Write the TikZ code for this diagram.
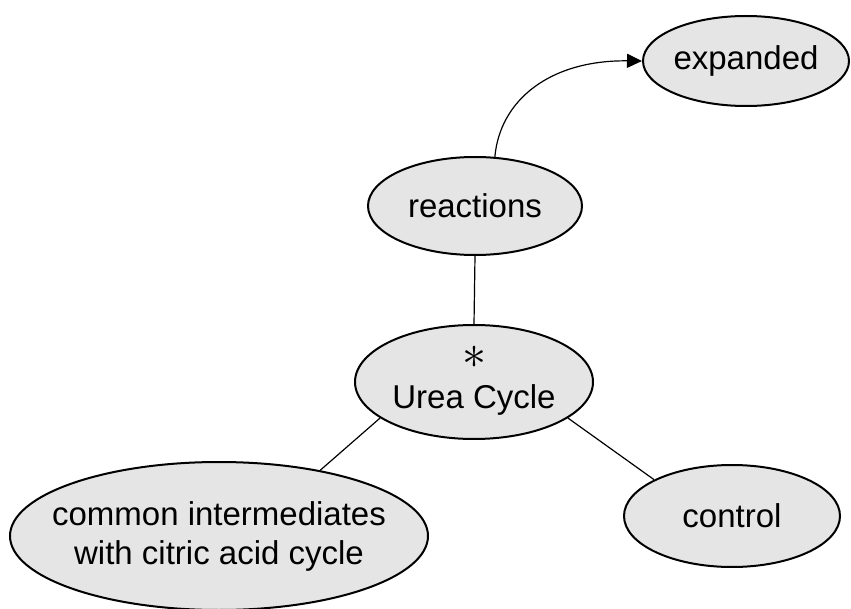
\documentclass[tikz,border=0pt]{standalone}
\usepackage{fontspec}
\setmainfont{Liberation Sans}
\usetikzlibrary{shapes.geometric,arrows.meta}
\definecolor{bubfill}{RGB}{229,229,229}
\begin{document}
\begin{tikzpicture}[x=1pt,y=-1pt,
  bub/.style={ellipse,draw=black,line width=2pt,fill=bubfill,inner sep=0pt,
    font=\fontsize{33}{39}\selectfont,align=center},
  link/.style={draw=black,line width=1.2pt},
  txt/.style={font=\fontsize{33}{39}\selectfont,inner sep=0pt}]
\useasboundingbox (0,0) rectangle (851,609);
\node[bub,minimum width=206pt,minimum height=90pt] (expanded) at (746,61) {expanded};
\node[bub,minimum width=214pt,minimum height=98pt] (reactions) at (475,206) {reactions};
\node[bub,minimum width=238pt,minimum height=114pt] (urea) at (474,382) {};
\node[txt,anchor=base] (ureatext) at (474,408) {Urea Cycle};
\node[inner sep=0pt] (star) at (474,357) {\scalebox{4.8}{$\ast$}};
\node[bub,minimum width=418pt,minimum height=148pt,inner xsep=-30pt,inner ysep=-20pt] (common) at (219,536) {common intermediates\\with citric acid cycle};
\node[bub,minimum width=216pt,minimum height=102pt] (control) at (732,516) {control};
\draw[link] (reactions.south) -- (urea.north);
\draw[link] (urea.201) -- (common.33);
\draw[link] (urea.339) -- (control.155);
\draw[link,-{Triangle[length=15pt,width=14pt]}] (reactions.68) .. controls (500,100) and (550,60) .. (expanded.west);
\end{tikzpicture}
\end{document}
